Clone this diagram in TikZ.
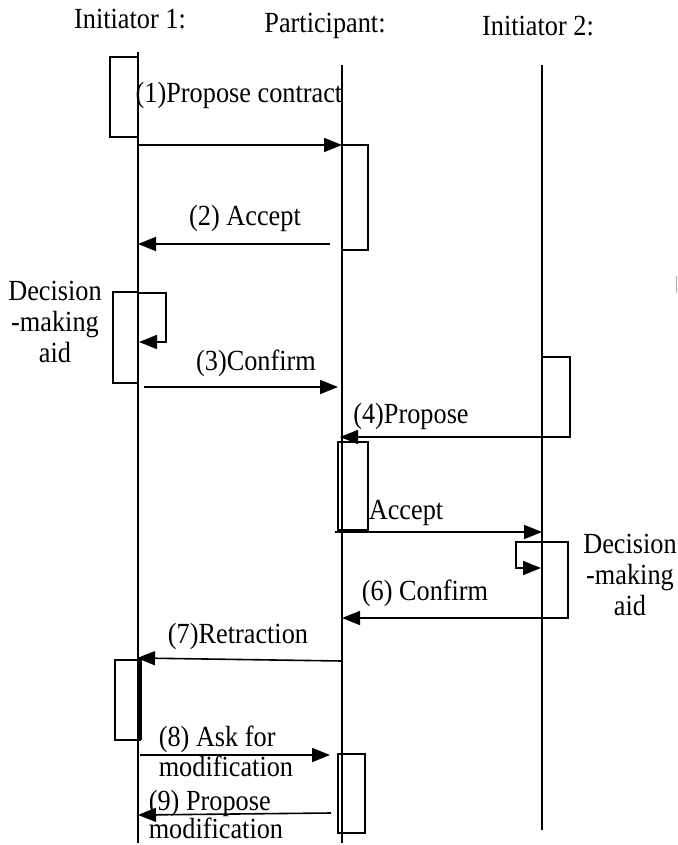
\documentclass[tikz,border=0pt]{standalone}
\usepackage{fontspec}
\setmainfont[FakeStretch=0.9]{Liberation Serif}
\usetikzlibrary{arrows.meta}
\begin{document}
\begin{tikzpicture}[x=0.5pt,y=-0.5pt,line width=0.8pt,
  msg/.style={-{Triangle[length=9pt,width=7pt]}},
  lbl/.style={inner sep=0pt,anchor=base,font=\fontsize{14.6}{15.3}\selectfont},
  mlbl/.style={inner sep=0pt,anchor=base,align=center,font=\fontsize{14.6}{15.3}\selectfont},
  actbox/.style={draw,line width=0.8pt}]
\useasboundingbox (0,0) rectangle (677,845);
% titles
\node[lbl] (t1) at (130,29) {Initiator 1:};
\node[lbl] (t2) at (325,33) {Participant:};
\node[lbl] (t3) at (538,36) {Initiator 2:};
% lifelines
\coordinate (i1top) at (138,52); \coordinate (i1bot) at (138,843);
\coordinate (ptop) at (342,65);  \coordinate (pbot) at (342,843);
\coordinate (i2top) at (542,65); \coordinate (i2bot) at (542,830);
\draw (i1top) -- (i1bot);
\draw (ptop) -- (pbot);
\draw (i2top) -- (i2bot);
% activation boxes
\draw[actbox] (110,57) rectangle (138,137);
\draw[actbox] (342,145) rectangle (368,250);
\draw[actbox] (113,292) rectangle (138,383);
\draw[actbox] (542,357) rectangle (570,437);
\draw[actbox] (338,442) rectangle (368,530);
\draw[actbox] (542,542) rectangle (568,618);
\draw[actbox] (115,660) rectangle (140,740);
\draw[line width=1.6pt] (140,660) -- (140,740);
\draw[actbox] (338,754) rectangle (365,833);
% messages
\coordinate (m1a) at (138,145); \coordinate (m1b) at (342,145);
\draw[msg] (m1a) -- (m1b);
\node[lbl] (l1) at (239,103) {(1)Propose contract};
\coordinate (m2a) at (330,244); \coordinate (m2b) at (138,244);
\draw[msg] (m2a) -- (m2b);
\node[lbl] (l2) at (245,226) {(2) Accept};
% self loop left
\coordinate (s1a) at (138,293); \coordinate (s1b) at (166,293);
\coordinate (s1c) at (166,342); \coordinate (s1d) at (139,342);
\draw[msg] (s1a) -- (s1b) -- (s1c) -- (s1d);
\node[mlbl] (d1) at (55,362) {Decision\\-making\\aid};
\coordinate (m3a) at (144,387); \coordinate (m3b) at (338,387);
\draw[msg] (m3a) -- (m3b);
\node[lbl] (l3) at (256,370) {(3)Confirm};
\coordinate (m4a) at (542,437); \coordinate (m4b) at (340,437);
\draw[msg] (m4a) -- (m4b);
\node[lbl] (l4) at (411,423) {(4)Propose};
\coordinate (m5a) at (335,532); \coordinate (m5b) at (542,532);
\draw[msg] (m5a) -- (m5b);
\node[lbl] (l5) at (406,519) {Accept};
% self loop right
\coordinate (s2a) at (542,542); \coordinate (s2b) at (516,542);
\coordinate (s2c) at (516,568); \coordinate (s2d) at (541,568);
\draw[msg] (s2a) -- (s2b) -- (s2c) -- (s2d);
\node[mlbl] (d2) at (630,615) {Decision\\-making\\aid};
\coordinate (m6a) at (542,618); \coordinate (m6b) at (342,618);
\draw[msg] (m6a) -- (m6b);
\node[lbl] (l6) at (425,600) {(6) Confirm};
\coordinate (m7a) at (342,661); \coordinate (m7b) at (137,658);
\draw[msg] (m7a) -- (m7b);
\node[lbl] (l7) at (238,643) {(7)Retraction};
\coordinate (m8a) at (140,755); \coordinate (m8b) at (330,755);
\draw[msg] (m8a) -- (m8b);
\node[lbl,anchor=base west] (l8a) at (158,746) {(8) Ask for};
\node[lbl,anchor=base west] (l8b) at (158,776) {modification};
\coordinate (m9a) at (331,813); \coordinate (m9b) at (138,815);
\draw[msg] (m9a) -- (m9b);
\node[lbl,anchor=base west] (l9a) at (148,810) {(9) Propose};
\node[lbl,anchor=base west] (l9b) at (148,838) {modification};
% stray mark at right edge
\draw[gray!60,line width=0.4pt] (676,276) -- (676,293);
\end{tikzpicture}
\end{document}
